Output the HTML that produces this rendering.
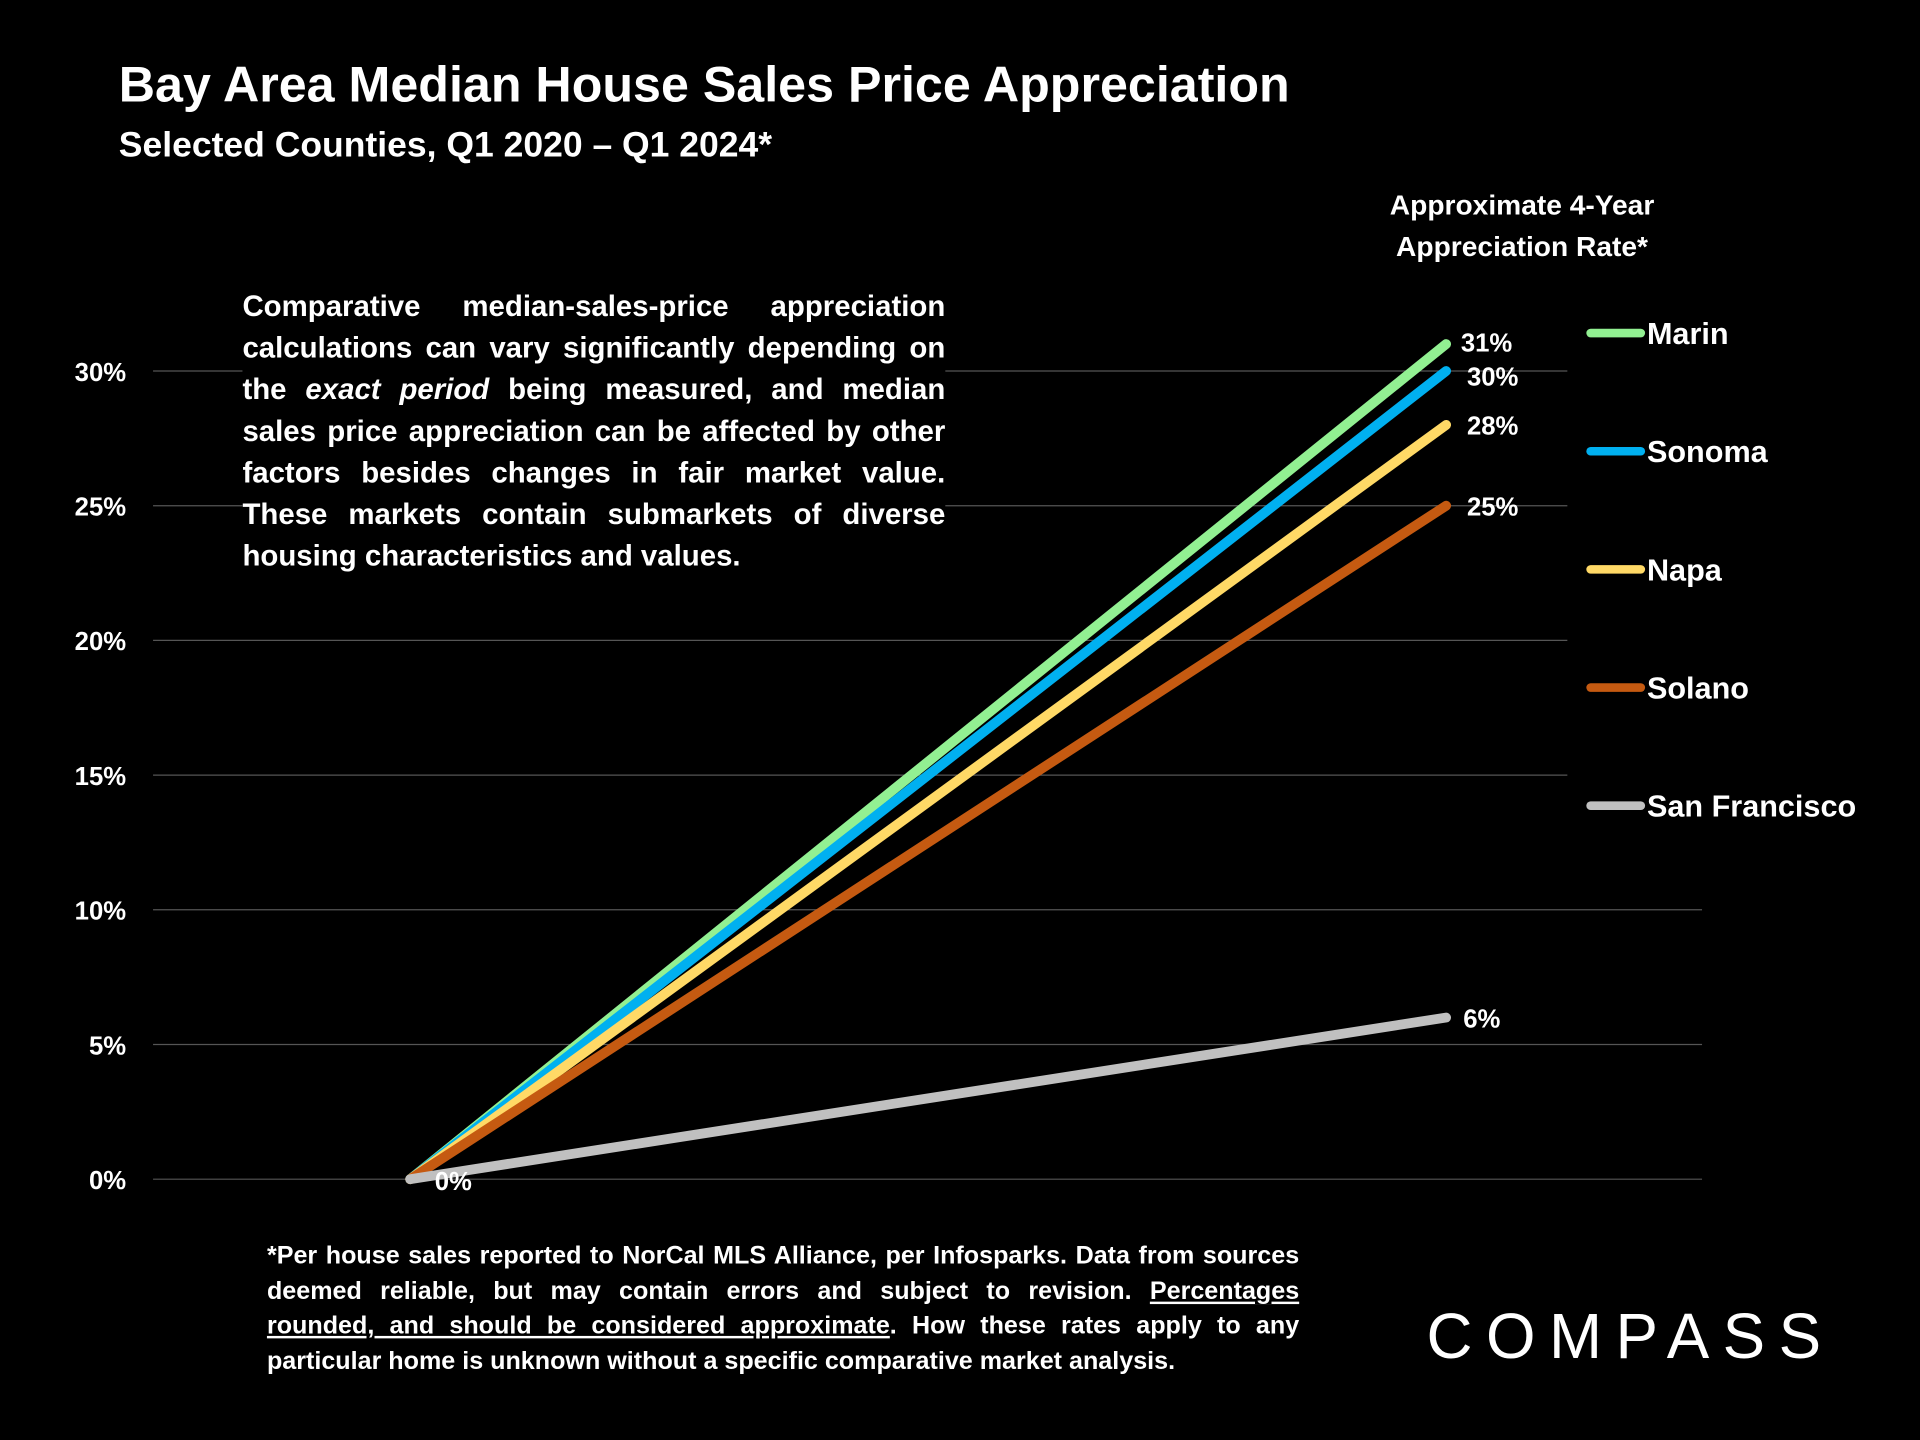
<!DOCTYPE html>
<html><head><meta charset="utf-8">
<style>
html,body{margin:0;padding:0;background:#000;}
#wrap{width:1568px;height:1176px;position:relative;transform:scale(1.22449);transform-origin:0 0;font-family:"Liberation Sans",sans-serif;color:#fff;font-weight:bold;overflow:hidden;}
.abs{position:absolute;}
#note{left:198px;top:234px;width:574px;font-size:24px;line-height:34px;text-align:justify;background:#000;}
#foot{left:218px;top:1012px;width:843px;font-size:20.5px;line-height:28.5px;text-align:justify;}
</style></head><body>
<div id="wrap">
<div class="abs" style="left:97px;top:46px;font-size:41px;">Bay Area Median House Sales Price Appreciation</div>
<div class="abs" style="left:97px;top:103px;font-size:29px;">Selected Counties, Q1 2020 – Q1 2024*</div>
<div class="abs" style="left:1100px;top:150px;width:286px;text-align:center;font-size:23px;line-height:34px;">Approximate 4-Year<br>Appreciation Rate*</div>
<svg id="chart" class="abs" style="left:0;top:0" width="1568" height="1176"></svg>
<div id="note" class="abs">Comparative median-sales-price appreciation calculations can vary significantly depending on the <i>exact period</i> being measured, and median sales price appreciation can be affected by other factors besides changes in fair market value. These markets contain submarkets of diverse housing characteristics and values.</div>
<div id="foot" class="abs">*Per house sales reported to NorCal MLS Alliance, per Infosparks. Data from sources deemed reliable, but may contain errors and subject to revision. <u>Percentages rounded, and should be considered approximate</u>. How these rates apply to any particular home is unknown without a specific comparative market analysis.</div>
<div class="abs" style="left:1165px;top:1062px;font-size:52px;font-weight:normal;letter-spacing:11px;">COMPASS</div>
</div>
<script>
const categories=["Q1 2020","Q1 2024"];
const names=["Marin","Sonoma","Napa","Solano","San Francisco"];
const endValues=[31,30,28,25,6];
const startValues=[0,0,0,0,0];
const colors=["#92f092","#00b0f0","#ffd966","#c55a11","#c0c0c0"];
const yTicks=[0,5,10,15,20,25,30];
const NS="http://www.w3.org/2000/svg";
const svg=document.getElementById('chart');
const y=v=>963-v*22;
const x=i=>335+i*846;
function mk(t,a){const e=document.createElementNS(NS,t);for(const k in a)e.setAttribute(k,a[k]);svg.appendChild(e);return e;}
yTicks.forEach(v=>{
  const l=mk('line',{x1:125,x2:v>=15?1280:1390,y1:y(v),y2:y(v),stroke:'#555','stroke-width':1});
  
  
  const t=mk('text',{x:103,y:y(v)+8,'text-anchor':'end',fill:'#fff','font-size':21,'font-weight':'bold','font-family':'Liberation Sans'});
  t.textContent=v+'%';
  
  
});
names.forEach((n,i)=>{
  const l=mk('line',{x1:x(0),y1:y(startValues[i]),x2:x(1),y2:y(endValues[i]),stroke:colors[i],'stroke-width':8,'stroke-linecap':'round'});
  
  
  const t=mk('text',{x:x(1)+12+(i==0?0:i==4?2:5),y:y(endValues[i])+8+(i==0?-2:0)+(i==1?4:0),fill:'#fff','font-size':21,'font-weight':'bold','font-family':'Liberation Sans'});
  t.textContent=endValues[i]+'%';
  
  
  const ly=272+i*96.5;
  const ll=mk('line',{x1:1299,x2:1340,y1:ly,y2:ly,stroke:colors[i],'stroke-width':7,'stroke-linecap':'round'});
  
  
  const lt=mk('text',{x:1345,y:ly+9,fill:'#fff','font-size':25,'font-weight':'bold','font-family':'Liberation Sans'});
  lt.textContent=n;
  
  
});
const z=mk('text',{x:355,y:972,fill:'#fff','font-size':21,'font-weight':'bold','font-family':'Liberation Sans'});
z.textContent='0%';


</script>
</body></html>
